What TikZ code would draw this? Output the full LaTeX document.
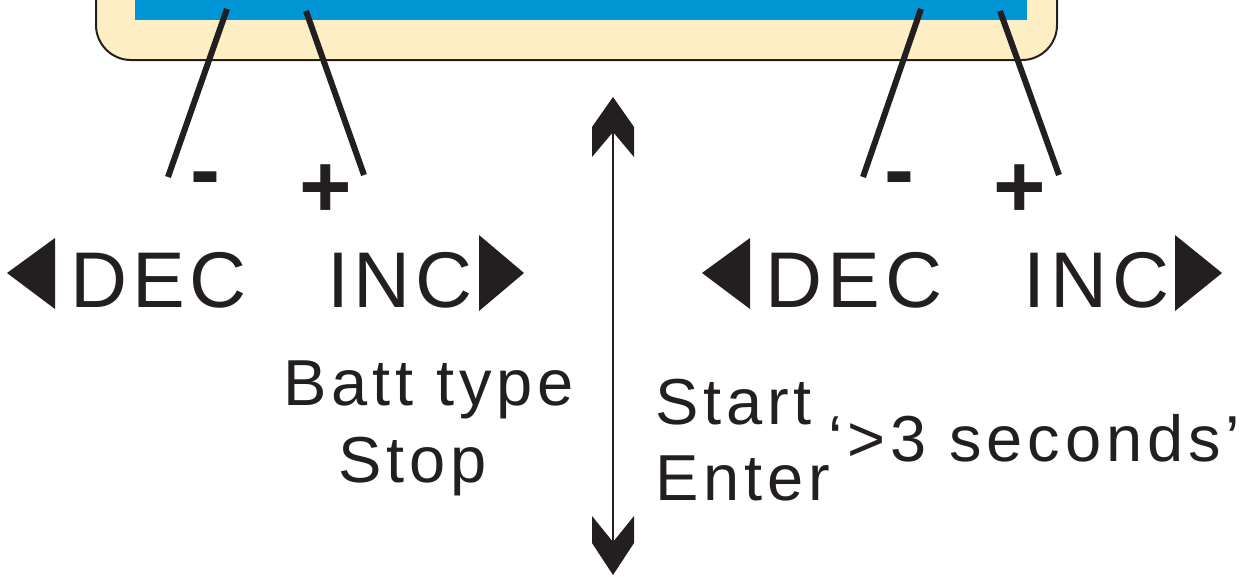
\documentclass[tikz,border=0pt]{standalone}
\usepackage{fontspec}
\setmainfont{Liberation Sans}
\newfontfamily\trk[LetterSpace=6]{Liberation Sans}
\newfontfamily\trkc[LetterSpace=7.5]{Liberation Sans}
\definecolor{ink}{HTML}{231F20}
\definecolor{cream}{HTML}{FDEEC4}
\definecolor{lcdblue}{HTML}{0096D6}
\begin{document}
\begin{tikzpicture}[x=1pt,y=-1pt,
  keylbl/.style={font=\trk\fontsize{79}{82}\selectfont, text=ink, inner sep=0pt, anchor=base},
  caplbl/.style={font=\trkc\fontsize{65}{70}\selectfont, text=ink, inner sep=0pt, anchor=base},
  signlbl/.style={font=\bfseries\fontsize{90}{90}\selectfont, text=ink, inner sep=0pt, anchor=base},
  lead/.style={draw=ink, line width=6pt},
  tri/.style={fill=ink},
  shaft/.style={draw=ink, line width=2.6pt}]
\useasboundingbox (0,0) rectangle (1245,576);
\begin{scope}
  \clip (0,0) rectangle (1245,576);
  \draw[fill=cream, draw=ink, line width=2pt, rounded corners=35pt] (96,-80) rectangle (1057,60);
  \fill[lcdblue] (135,-10) rectangle (1027,19.5);
\end{scope}
% leader lines
\coordinate (l1a) at (227,9);   \coordinate (l1b) at (168,177);
\coordinate (l2a) at (306,11);  \coordinate (l2b) at (364,175);
\coordinate (l3a) at (921,9);   \coordinate (l3b) at (863,177);
\coordinate (l4a) at (1000,11); \coordinate (l4b) at (1059,175);
\draw[lead] (l1a) -- (l1b);
\draw[lead] (l2a) -- (l2b);
\draw[lead] (l3a) -- (l3b);
\draw[lead] (l4a) -- (l4b);
% signs
\node[signlbl] (m1) at (205,200) {-};
\node[signlbl] (p1) at (326,217) {+};
\node[signlbl] (m2) at (899.5,200) {-};
\node[signlbl] (p2) at (1020,217) {+};
% key labels
\node[keylbl] (dec1) at (158.5,307) {DEC};
\node[keylbl] (inc1) at (400,307) {INC};
\node[keylbl] (dec2) at (854,307) {DEC};
\node[keylbl] (inc2) at (1096.5,307) {INC};
\fill[tri] (55,238) -- (55,309) -- (7,273) -- cycle;
\fill[tri] (479,235) -- (479,311) -- (524,273) -- cycle;
\fill[tri] (750,238) -- (750,309) -- (702,273) -- cycle;
\fill[tri] (1175,235) -- (1175,311) -- (1222,273) -- cycle;
% captions
\node[caplbl] (batt) at (428.5,405) {Batt type};
\node[caplbl] (stop) at (412.5,482) {Stop};
\node[caplbl, anchor=base west] (start) at (655,424) {Start};
\node[caplbl, anchor=base west] (enter) at (655,500) {Enter};
\node[caplbl, anchor=base west] (secs) at (828,461) {‘>3 seconds’};
% double arrow
\coordinate (atop) at (613,97);
\coordinate (abot) at (613,575);
\draw[shaft] ([yshift=-30pt]atop) -- ([yshift=30pt]abot);
\fill[ink] (atop) -- ++(21,30) -- ++(0,30) -- ++(-21,-25) -- ++(-21,25) -- ++(0,-30) -- cycle;
\fill[ink] (abot) -- ++(21,-32) -- ++(0,-27) -- ++(-21,26) -- ++(-21,-26) -- ++(0,27) -- cycle;
\end{tikzpicture}
\end{document}
